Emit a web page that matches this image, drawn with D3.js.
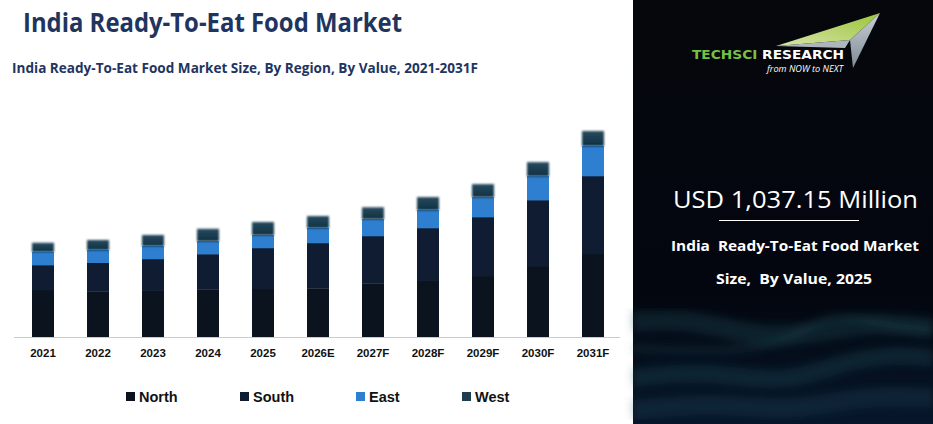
<!DOCTYPE html>
<html>
<head>
<meta charset="utf-8">
<script src="https://cdn.jsdelivr.net/npm/d3@7"></script>
<style>
  html, body { margin: 0; padding: 0; background: #fff; }
  svg { display: block; }
</style>
</head>
<body>
<svg id="chart" width="933" height="424"></svg>
<script>
// chart data (USD million)
const years = ["2021", "2022", "2023", "2024", "2025", "2026E", "2027F", "2028F", "2029F", "2030F", "2031F"];
const regions = ["North", "South", "East", "West"];
const north = [424, 412, 418, 430, 433, 439, 484, 508, 550, 640, 749];
const south = [225, 258, 286, 318, 370, 409, 427, 475, 532, 595, 703];
const east  = [120, 115, 117, 117, 117, 135, 153, 162, 180, 216, 271];
const west  = [81, 90, 99, 111, 117, 108, 106, 117, 117, 126, 135];
const headline = "USD 1,037.15 Million";

const colors = { North: "#0b141e", South: "#0f1c31", East: "#2f7fd1", West: "url(#westGrad)" };
const legendColors = { North: "#0b141e", South: "#0f1c31", East: "#2f7fd1", West: "#1c3e50" };

const svg = d3.select("#chart");
const defs = svg.append("defs");

const wg = defs.append("linearGradient").attr("id", "westGrad")
    .attr("x1", 0).attr("y1", 0).attr("x2", 0).attr("y2", 1);
wg.append("stop").attr("offset", "0%").attr("stop-color", "#294a5c");
wg.append("stop").attr("offset", "100%").attr("stop-color", "#0c3145");

defs.append("filter").attr("id", "soft")
    .attr("x", "-20%").attr("y", "-40%").attr("width", "140%").attr("height", "180%")
  .append("feGaussianBlur").attr("stdDeviation", 0.8);

// table for the stack
const table = years.map((y, i) => ({ year: y, North: north[i], South: south[i], East: east[i], West: west[i] }));
const series = d3.stack().keys(regions)(table);

const x = d3.scaleBand().domain(years).range([15.5, 620.5]).paddingInner(0.6).paddingOuter(0.3);
const y = d3.scaleLinear().domain([0, 2000]).range([337, 337 - 2000 / 9.019]);

// titles
svg.append("text")
    .attr("x", 23).attr("y", 32)
    .attr("font-family", "'Open Sans', sans-serif").attr("font-weight", 700)
    .attr("font-size", 27).attr("fill", "#1f3560")
    .attr("textLength", 379).attr("lengthAdjust", "spacingAndGlyphs")
    .text("India Ready-To-Eat Food Market");

svg.append("text")
    .attr("x", 12).attr("y", 73)
    .attr("font-family", "'Open Sans', sans-serif").attr("font-weight", 700)
    .attr("font-size", 15).attr("fill", "#1f3560")
    .attr("textLength", 466).attr("lengthAdjust", "spacingAndGlyphs")
    .text("India Ready-To-Eat Food Market Size, By Region, By Value, 2021-2031F");

// bars
const layer = svg.append("g")
  .selectAll("g")
  .data(series)
  .join("g")
    .attr("fill", d => colors[d.key])
    .attr("filter", d => d.key === "West" ? "url(#soft)" : null);

layer.selectAll("rect")
  .data(d => d)
  .join("rect")
    .attr("x", d => x(d.data.year))
    .attr("y", d => y(d[1]))
    .attr("width", x.bandwidth())
    .attr("height", d => y(d[0]) - y(d[1]) + 0.3);

// x axis
const xAxis = svg.append("g")
    .attr("transform", "translate(0,337)")
    .call(d3.axisBottom(x).tickSize(0).tickPadding(12));
xAxis.select(".domain").attr("stroke", "#c8cbd0").attr("d", "M14,0.5H620");
xAxis.selectAll("text")
    .attr("font-family", "'Liberation Sans', Arial, sans-serif")
    .attr("font-weight", 700).attr("font-size", 11.5).attr("fill", "#111");

// legend
const legendX = [126, 240, 356, 462];
const legend = svg.append("g")
  .selectAll("g")
  .data(regions)
  .join("g")
    .attr("transform", (d, i) => `translate(${legendX[i]},392)`);
legend.append("rect")
    .attr("width", 9).attr("height", 9)
    .attr("fill", d => legendColors[d]);
legend.append("text")
    .attr("x", 13).attr("y", 9.5)
    .attr("font-family", "'Liberation Sans', Arial, sans-serif")
    .attr("font-weight", 700).attr("font-size", 14.5).attr("fill", "#111")
    .text(d => d);

// right panel
const panel = svg.append("g").attr("transform", "translate(633,0)");
const pg = defs.append("linearGradient").attr("id", "panelGrad")
    .attr("x1", 0).attr("y1", 0).attr("x2", 0).attr("y2", 1);
pg.append("stop").attr("offset", "0%").attr("stop-color", "#05070c");
pg.append("stop").attr("offset", "70%").attr("stop-color", "#03060f");
pg.append("stop").attr("offset", "100%").attr("stop-color", "#07162a");
panel.append("rect").attr("width", 300).attr("height", 424).attr("fill", "url(#panelGrad)");

defs.append("filter").attr("id", "waveBlur")
  .append("feGaussianBlur").attr("stdDeviation", 4);

const waveLine = d3.line().curve(d3.curveBasis);
const waves = [
  { pts: [[0, 322], [60, 318], [130, 340], [200, 330], [240, 322], [300, 328]], c: "#1d4b55", o: 0.35, w: 20 },
  { pts: [[0, 378], [70, 370], [150, 385], [210, 362], [260, 354], [300, 358]], c: "#1e5560", o: 0.3, w: 18 },
  { pts: [[0, 410], [80, 402], [160, 412], [230, 395], [300, 398]], c: "#1b4a5e", o: 0.3, w: 20 },
  { pts: [[0, 348], [90, 352], [150, 345], [200, 310], [250, 326], [300, 330]], c: "#2a6064", o: 0.22, w: 8 }
];
panel.append("g").attr("filter", "url(#waveBlur)")
  .selectAll("path")
  .data(waves)
  .join("path")
    .attr("d", d => waveLine(d.pts))
    .attr("fill", "none")
    .attr("stroke", d => d.c)
    .attr("stroke-opacity", d => d.o)
    .attr("stroke-width", d => d.w);

// logo
const lg = defs.append("linearGradient").attr("id", "logoGreen")
    .attr("x1", 0).attr("y1", 1).attr("x2", 1).attr("y2", 0);
lg.append("stop").attr("offset", "0%").attr("stop-color", "#d8e4a8");
lg.append("stop").attr("offset", "100%").attr("stop-color", "#9ac53a");
const lgr = defs.append("linearGradient").attr("id", "logoGrey")
    .attr("x1", 0).attr("y1", 0).attr("x2", 0).attr("y2", 1);
lgr.append("stop").attr("offset", "0%").attr("stop-color", "#c9d0d6");
lgr.append("stop").attr("offset", "100%").attr("stop-color", "#7f8a94");

const logo = svg.append("g");
logo.append("path").attr("d", "M776,46L880,13L850,40Z").attr("fill", "url(#logoGreen)");
logo.append("path").attr("d", "M776,46L850,40L845,48Z").attr("fill", "#aeb6bd");
logo.append("path").attr("d", "M850,40L880,13L853,68Z").attr("fill", "url(#logoGrey)");

const techsci = logo.append("text")
    .attr("x", 692).attr("y", 59)
    .attr("font-family", "'DejaVu Sans', sans-serif").attr("font-weight", 700)
    .attr("font-size", 12.5)
    .attr("textLength", 152).attr("lengthAdjust", "spacingAndGlyphs");
techsci.append("tspan").attr("fill", "#78c043").text("TECHSCI ");
techsci.append("tspan").attr("fill", "#ffffff").text("RESEARCH");
logo.append("text")
    .attr("x", 767).attr("y", 72)
    .attr("font-family", "'Open Sans', sans-serif").attr("font-style", "italic")
    .attr("font-size", 8.5).attr("fill", "#fff")
    .attr("textLength", 76).attr("lengthAdjust", "spacingAndGlyphs")
    .text("from NOW to NEXT");

// headline text
svg.append("text")
    .attr("x", 673).attr("y", 208)
    .attr("font-family", "'Open Sans', sans-serif")
    .attr("font-size", 24).attr("fill", "#fff")
    .attr("textLength", 245).attr("lengthAdjust", "spacingAndGlyphs")
    .text(headline);
svg.append("line")
    .attr("x1", 719).attr("x2", 859).attr("y1", 220.5).attr("y2", 220.5)
    .attr("stroke", "#fff").attr("stroke-width", 1);
svg.append("text")
    .attr("x", 671).attr("y", 251)
    .attr("font-family", "'Open Sans', sans-serif").attr("font-weight", 700)
    .attr("font-size", 15).attr("fill", "#fff")
    .attr("textLength", 248).attr("lengthAdjust", "spacingAndGlyphs")
    .attr("xml:space", "preserve")
    .text("India  Ready-To-Eat Food Market");
svg.append("text")
    .attr("x", 716).attr("y", 284)
    .attr("font-family", "'Open Sans', sans-serif").attr("font-weight", 700)
    .attr("font-size", 15).attr("fill", "#fff")
    .attr("textLength", 156).attr("lengthAdjust", "spacingAndGlyphs")
    .attr("xml:space", "preserve")
    .text("Size,  By Value, 2025");
</script>
</body>
</html>
